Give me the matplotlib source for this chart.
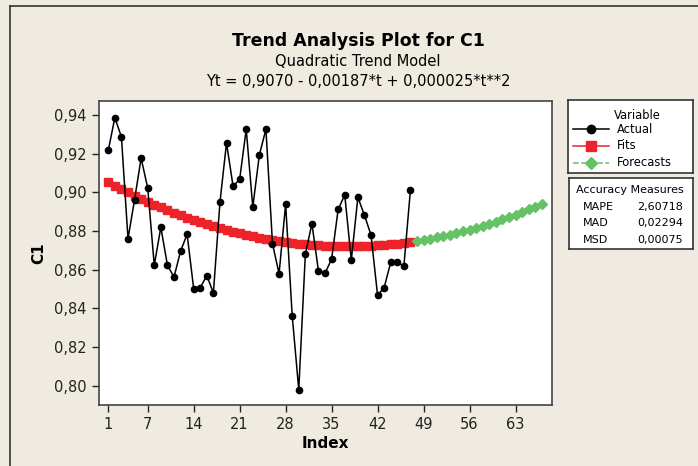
import matplotlib
matplotlib.use("Agg")
import matplotlib.pyplot as plt
from matplotlib.lines import Line2D
from matplotlib.ticker import FuncFormatter

plt.rcParams['font.family'] = ['DejaVu Sans']

actual = [0.9217, 0.9386, 0.9286, 0.8760, 0.8962, 0.9176, 0.9022, 0.8623, 0.8819, 0.8624,
          0.8561, 0.8695, 0.8783, 0.8502, 0.8507, 0.8569, 0.8479, 0.8948, 0.9255, 0.9031,
          0.9067, 0.9326, 0.8923, 0.9193, 0.9326, 0.8734, 0.8579, 0.8938, 0.8362, 0.7979,
          0.8679, 0.8838, 0.8593, 0.8581, 0.8655, 0.8912, 0.8986, 0.8650, 0.8974, 0.8881,
          0.8779, 0.8467, 0.8507, 0.8638, 0.8638, 0.8617, 0.9012]
fits = [0.9052, 0.9034, 0.9016, 0.8999, 0.8983, 0.8967, 0.8951, 0.8936, 0.8922, 0.8908,
        0.8895, 0.8882, 0.8869, 0.8857, 0.8846, 0.8835, 0.8824, 0.8814, 0.8805, 0.8796,
        0.8788, 0.8780, 0.8772, 0.8765, 0.8759, 0.8753, 0.8747, 0.8742, 0.8738, 0.8734,
        0.8731, 0.8728, 0.8725, 0.8723, 0.8722, 0.8721, 0.8720, 0.8720, 0.8721, 0.8722,
        0.8724, 0.8726, 0.8728, 0.8731, 0.8735, 0.8739, 0.8743]
forecasts = [0.8748, 0.8754, 0.8760, 0.8767, 0.8774, 0.8781, 0.8789, 0.8798, 0.8807, 0.8816,
             0.8826, 0.8837, 0.8848, 0.8860, 0.8872, 0.8884, 0.8897, 0.8911, 0.8925, 0.8939]
t_obs = list(range(1, len(actual) + 1))
t_fc = list(range(len(actual) + 1, len(actual) + len(forecasts) + 1))

xticks = [1, 7, 14, 21, 28, 35, 42, 49, 56, 63]
yticks = [0.80, 0.82, 0.84, 0.86, 0.88, 0.90, 0.92, 0.94]
measures = ["MAPE", "MAD", "MSD"]
measure_vals = ["2,60718", "0,02294", "0,00075"]

bg = "#efebe1"
red = "#ee2229"
green = "#66c266"

W, H = 698, 466
fig = plt.figure(figsize=(W / 100, H / 100), dpi=100, facecolor=bg)

def box(l, t, r, b):
    return [l / W, 1 - b / H, (r - l) / W, (b - t) / H]

ax = fig.add_axes(box(98.7, 101, 552.3, 405))
ax.set_facecolor("white")
ax.plot(t_obs, actual, color="black", lw=1.1, marker="o", ms=4.5, zorder=3)
ax.plot(t_obs, fits, color=red, lw=1.2, marker="s", ms=6, mec=red, zorder=2)
ax.plot(t_fc, forecasts, color=green, lw=1.2, ls="--", marker="D", ms=5.5, mec=green, zorder=2)
ax.set_xlim(-0.46, 68.6)
ax.set_ylim(0.790, 0.9472)
ax.set_xticks(xticks)
ax.set_yticks(yticks)
ax.yaxis.set_major_formatter(FuncFormatter(lambda v, p: f"{v:.2f}".replace(".", ",")))
ax.tick_params(direction="out", length=5, width=1, labelsize=10.5, colors="#222222")
for s in ax.spines.values():
    s.set_color("#444444")
    s.set_linewidth(1.2)
ax.set_xlabel("Index", fontsize=11, fontweight="bold", labelpad=3)
ax.set_ylabel("C1", fontsize=11, fontweight="bold", labelpad=6)

fig.text(358 / W, 1 - 41 / H, "Trend Analysis Plot for C1", ha="center", va="center",
         fontsize=12.5, fontweight="bold")
fig.text(358 / W, 1 - 61.5 / H, "Quadratic Trend Model", ha="center", va="center", fontsize=10.5)
fig.text(358 / W, 1 - 81 / H, "Yt = 0,9070 - 0,00187*t + 0,000025*t**2", ha="center",
         va="center", fontsize=10.5)

# legend box
lg = fig.add_axes(box(568.3, 100, 693, 173.3))
lg.set_xlim(0, 1)
lg.set_ylim(0, 1)
lg.set_xticks([])
lg.set_yticks([])
lg.set_facecolor("white")
for s in lg.spines.values():
    s.set_color("#333333")
    s.set_linewidth(1.2)
lg.text(0.55, 0.795, "Variable", ha="center", va="center", fontsize=8.3)
rows = [("Actual", "black", "-", "o", 5, 0.6),
        ("Fits", red, "-", "s", 6, 0.373),
        ("Forecasts", green, "--", "D", 5.5, 0.145)]
for name, c, ls, m, ms, y in rows:
    lg.add_line(Line2D([0.04, 0.33], [y, y], color=c, ls=ls, lw=1.1))
    lg.plot([0.18], [y], marker=m, color=c, ms=ms + 1)
    lg.text(0.39, y, name, ha="left", va="center", fontsize=8.3)

# accuracy measures box
ac = fig.add_axes(box(569, 178.3, 693, 249.3))
ac.set_xlim(0, 1)
ac.set_ylim(0, 1)
ac.set_xticks([])
ac.set_yticks([])
ac.set_facecolor("white")
for s in ac.spines.values():
    s.set_color("#333333")
    s.set_linewidth(1.2)
ac.text(0.49, 0.835, "Accuracy Measures", ha="center", va="center", fontsize=8.0)
for i, (nm, val) in enumerate(zip(measures, measure_vals)):
    y = [0.6, 0.375, 0.127][i]
    ac.text(0.115, y, nm, ha="left", va="center", fontsize=8.0)
    ac.text(0.55, y, val, ha="left", va="center", fontsize=8.0)

# outer graph frame (left and top edges visible)
fig.add_artist(Line2D([10 / W, 10 / W], [0, 1 - 6 / H], color="#333333", lw=1.2))
fig.add_artist(Line2D([10 / W, 1], [1 - 6 / H, 1 - 6 / H], color="#333333", lw=1.2))

fig.savefig("out.png", dpi=100, facecolor=bg)
